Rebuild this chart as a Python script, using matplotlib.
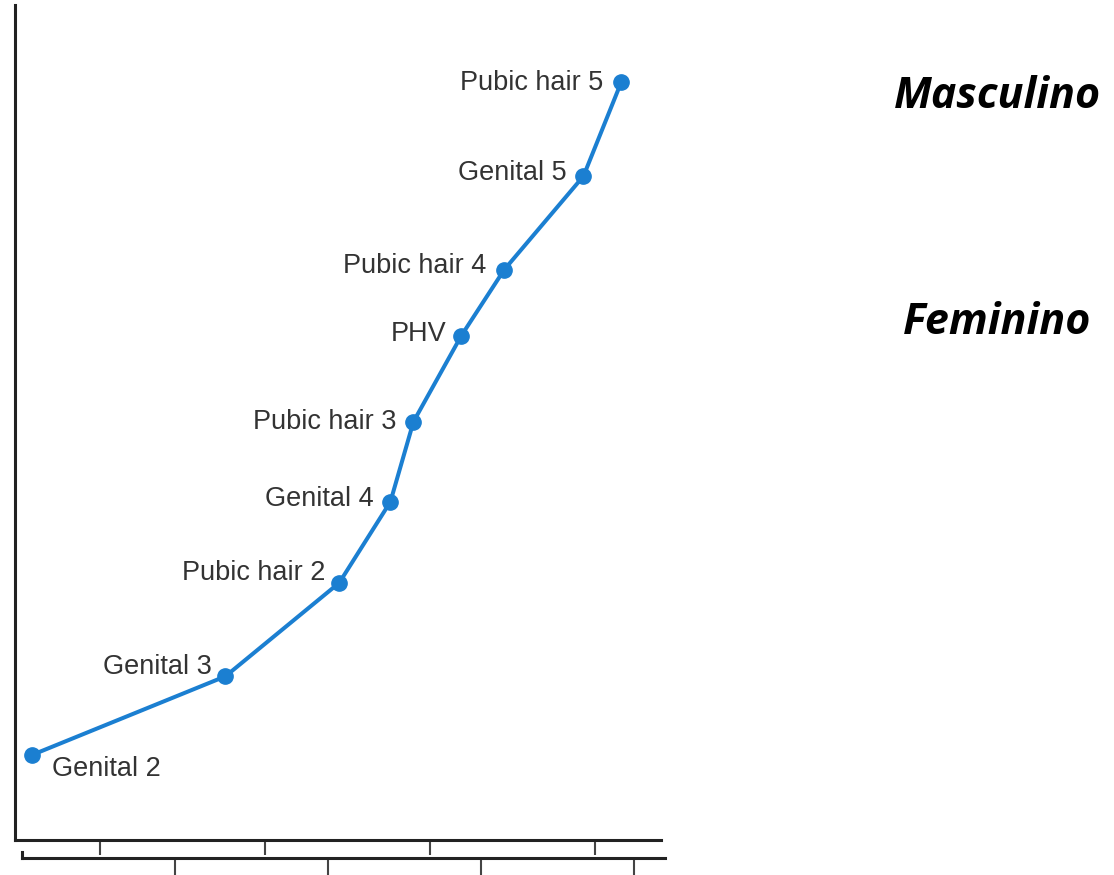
import matplotlib.pyplot as plt

# stage markers along the pubertal sequence (x = age in years, y = relative progress %)
stages = ['Genital 2', 'Genital 3', 'Pubic hair 2', 'Genital 4', 'Pubic hair 3',
          'PHV', 'Pubic hair 4', 'Genital 5', 'Pubic hair 5']
age = [9.59, 10.76, 11.45, 11.76, 11.90, 12.19, 12.45, 12.93, 13.16]
progress = [10.2, 19.6, 30.8, 40.5, 50.1, 60.4, 68.3, 79.5, 90.8]

main_ticks = [10, 11, 12, 13]
second_ticks = [1, 2, 3, 4]

# label offsets in points (style only)
label_dx = [14, -10, -10, -12, -12, -11, -13, -12, -13]
label_dy = [-10, 7, 7, 2, 0, 1, 3, 2, -1]

BLUE = '#1b7fd1'
W, H = 1114, 875

fig = plt.figure(figsize=(W / 100, H / 100), dpi=100)
plt.rcParams['font.family'] = ['Liberation Sans', 'DejaVu Sans']

ax = fig.add_axes([15 / W, 1 - 840 / H, (661 - 15) / W, (840 - 5) / H])
ax.plot(age, progress, color=BLUE, lw=2.9, marker='o', ms=11, zorder=3)

for name, x, y, dx, dy in zip(stages, age, progress, label_dx, label_dy):
    ha = 'left' if dx > 0 else 'right'
    ax.annotate(name, (x, y), xytext=(dx, dy), textcoords='offset points',
                ha=ha, va='center', fontsize=19.5, color='#333333')

ax.set_xlim(9.485, 13.4)
ax.set_ylim(0, 100)
ax.set_xticks(main_ticks)
ax.set_xticklabels([])
ax.set_yticks([])
ax.tick_params(axis='x', length=11, width=1.5, color='#444444')
for side in ['top', 'right']:
    ax.spines[side].set_visible(False)
for side in ['left', 'bottom']:
    ax.spines[side].set_linewidth(2.2)
    ax.spines[side].set_color('#222222')
ax.patch.set_alpha(0)

# second (cut off) age axis below the first one
ax2 = fig.add_axes([22 / W, 1 - 858 / H, (665 - 22) / W, 6 / H])
ax2.set_xlim(0.0, 4.2)
ax2.set_xticks(second_ticks)
ax2.set_xticklabels([])
ax2.set_yticks([])
ax2.tick_params(axis='x', length=12, width=1.5, color='#444444')
for side in ['top', 'right']:
    ax2.spines[side].set_visible(False)
for side in ['left', 'bottom']:
    ax2.spines[side].set_linewidth(2.2)
    ax2.spines[side].set_color('#222222')
ax2.patch.set_alpha(0)

fig.text(997 / W, 1 - 97 / H, 'Masculino', ha='center', va='center',
         fontsize=31, fontweight='bold', fontstyle='italic', family='Open Sans')
fig.text(997 / W, 1 - 322 / H, 'Feminino', ha='center', va='center',
         fontsize=31, fontweight='bold', fontstyle='italic', family='Open Sans')

fig.savefig('out.png', dpi=100, facecolor='white')
